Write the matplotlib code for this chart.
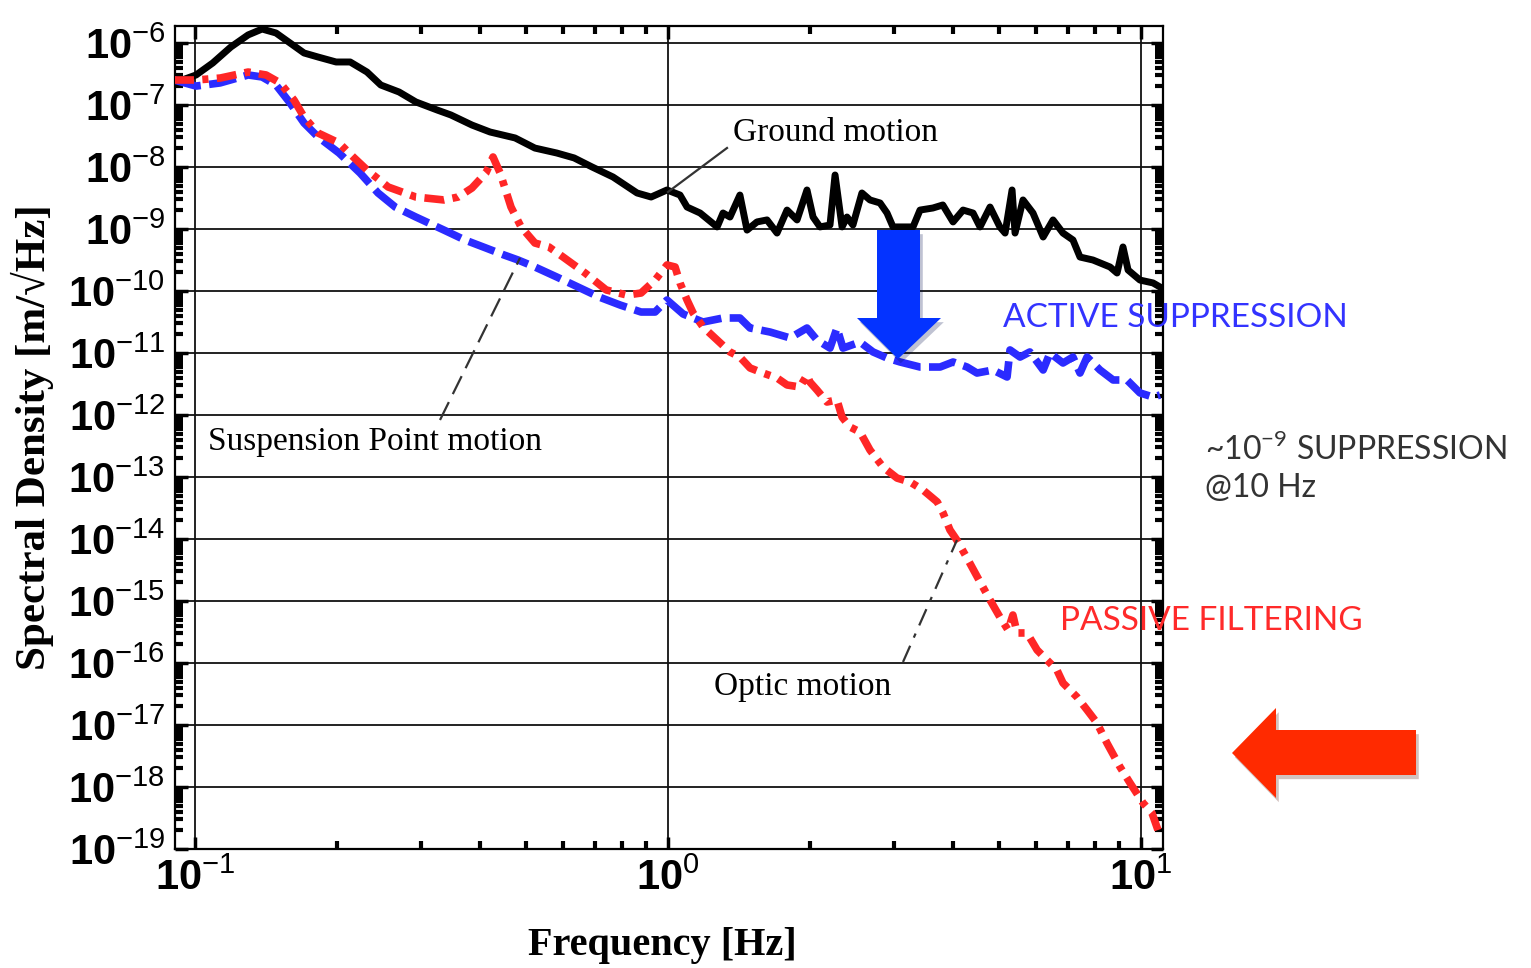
import matplotlib
matplotlib.use('Agg')
import matplotlib.pyplot as plt
import matplotlib.patheffects as pe
from matplotlib.patches import Polygon
from matplotlib.lines import Line2D
from matplotlib.ticker import LogLocator, NullFormatter
import numpy as np

plt.rcParams['mathtext.fontset'] = 'custom'
plt.rcParams['mathtext.bf'] = 'Liberation Sans:bold'
plt.rcParams['mathtext.sf'] = 'Liberation Sans'
plt.rcParams['mathtext.rm'] = 'Lato'

# ground motion (black, solid)
ground_f = [0.0903, 0.1005, 0.109, 0.119, 0.1295, 0.1386, 0.1483, 0.1588, 0.170, 0.182,
            0.1987, 0.2128, 0.231, 0.247, 0.270, 0.293, 0.325, 0.3475, 0.385, 0.4204,
            0.475, 0.523, 0.582, 0.633, 0.691, 0.765, 0.860, 0.921, 0.995, 1.06,
            1.097, 1.169, 1.27, 1.307, 1.352, 1.419, 1.469, 1.542, 1.619, 1.70,
            1.785, 1.874, 1.967, 2.026, 2.096, 2.20, 2.255, 2.333, 2.39, 2.46,
            2.57, 2.673, 2.807, 2.904, 2.99, 3.296, 3.41, 3.63, 3.81, 4.005,
            4.205, 4.414, 4.567, 4.795, 5.03, 5.16, 5.338, 5.416, 5.63, 5.91,
            6.21, 6.516, 6.84, 7.18, 7.43, 7.915, 8.60, 8.90, 9.16, 9.39,
            9.95, 10.6, 10.97]
ground_asd = [2.27e-7, 3.05e-7, 4.76e-7, 8.6e-7, 1.35e-6, 1.68e-6, 1.45e-6, 1.0e-6, 6.9e-7, 5.94e-7,
              4.94e-7, 4.94e-7, 3.4e-7, 2.1e-7, 1.62e-7, 1.12e-7, 8.3e-8, 6.9e-8, 4.75e-8, 3.67e-8,
              2.94e-8, 2.02e-8, 1.68e-8, 1.40e-8, 1.0e-8, 6.9e-9, 3.81e-9, 3.28e-9, 4.26e-9, 3.53e-9,
              2.26e-9, 1.81e-9, 1.08e-9, 1.81e-9, 1.56e-9, 3.53e-9, 9.6e-10, 1.30e-9, 1.40e-9, 8.6e-10,
              2.02e-9, 1.40e-9, 4.26e-9, 1.56e-9, 1.08e-9, 1.16e-9, 7.43e-9, 1.08e-9, 1.56e-9, 1.16e-9,
              3.81e-9, 2.94e-9, 2.63e-9, 1.81e-9, 1.08e-9, 1.08e-9, 2.02e-9, 2.18e-9, 2.44e-9, 1.30e-9,
              2.02e-9, 1.81e-9, 1.08e-9, 2.26e-9, 1.08e-9, 8.6e-10, 4.26e-9, 8.6e-10, 2.94e-9, 1.81e-9,
              7.43e-10, 1.40e-9, 8.6e-10, 6.65e-10, 3.53e-10, 3.16e-10, 2.44e-10, 1.95e-10, 5.13e-10, 2.18e-10,
              1.50e-10, 1.35e-10, 1.16e-10]

# suspension point motion (blue, dashed)
susp_f = [0.0903, 0.1005, 0.113, 0.1295, 0.1386, 0.1483, 0.1588, 0.170, 0.182, 0.2016,
          0.2233, 0.2437, 0.265, 0.293, 0.336, 0.372, 0.412, 0.450, 0.482, 0.523,
          0.582, 0.645, 0.715, 0.792, 0.877, 0.939, 0.995, 1.076, 1.186, 1.307,
          1.419, 1.491, 1.643, 1.811, 1.967, 2.065, 2.20, 2.276, 2.344, 2.546,
          2.713, 2.904, 3.094, 3.41, 3.76, 4.005, 4.287, 4.50, 4.864, 5.21,
          5.285, 5.55, 5.82, 6.21, 6.42, 6.84, 7.18, 7.43, 7.69, 8.19,
          8.73, 9.34, 9.95, 10.6, 10.97]
susp_asd = [2.53e-7, 2.02e-7, 2.27e-7, 3.05e-7, 2.83e-7, 2.1e-7, 1.08e-7, 5.13e-8, 3.05e-8, 1.68e-8,
            8.0e-9, 3.81e-9, 2.26e-9, 1.56e-9, 9.6e-10, 6.65e-10, 4.94e-10, 3.81e-10, 3.16e-10, 2.44e-10,
            1.68e-10, 1.16e-10, 8.0e-11, 5.94e-11, 4.58e-11, 4.58e-11, 7.16e-11, 4.26e-11, 3.16e-11, 3.67e-11,
            3.67e-11, 2.53e-11, 2.18e-11, 1.75e-11, 2.53e-11, 1.62e-11, 1.2e-11, 2.53e-11, 1.2e-11, 1.5e-11,
            1.04e-11, 8.3e-12, 7.16e-12, 5.94e-12, 5.94e-12, 7.16e-12, 5.94e-12, 4.75e-12, 5.32e-12, 4.1e-12,
            1.12e-11, 8.6e-12, 1.04e-11, 5.32e-12, 1.0e-11, 6.9e-12, 8.6e-12, 4.75e-12, 8.6e-12, 5.32e-12,
            3.67e-12, 3.67e-12, 2.27e-12, 1.95e-12, 2.1e-12]

# optic motion (red, dash-dot)
optic_f = [0.0903, 0.1005, 0.113, 0.1295, 0.1413, 0.1513, 0.1619, 0.170, 0.182, 0.2016,
           0.216, 0.231, 0.256, 0.293, 0.336, 0.360, 0.385, 0.412, 0.4266, 0.4416,
           0.4656, 0.489, 0.523, 0.560, 0.600, 0.668, 0.740, 0.819, 0.877, 0.939,
           0.995, 1.035, 1.06, 1.097, 1.13, 1.186, 1.27, 1.352, 1.419, 1.491,
           1.588, 1.70, 1.785, 1.90, 1.967, 1.995, 2.065, 2.168, 2.276, 2.333,
           2.425, 2.546, 2.673, 2.848, 3.05, 3.25, 3.46, 3.71, 3.815, 3.945,
           4.08, 4.31, 4.52, 4.795, 5.03, 5.235, 5.36, 5.47, 5.74, 6.03,
           6.42, 6.64, 6.84, 7.32, 7.69, 8.07, 8.47, 9.03, 9.48, 10.1,
           10.55, 10.86]
optic_asd = [2.53e-7, 2.53e-7, 2.72e-7, 3.4e-7, 3.05e-7, 2.27e-7, 1.2e-7, 6.4e-8, 3.53e-8, 2.44e-8,
             1.45e-8, 8.95e-9, 4.76e-9, 3.28e-9, 2.94e-9, 3.28e-9, 4.58e-9, 8.0e-9, 1.45e-8, 8.0e-9,
             2.26e-9, 1.08e-9, 5.94e-10, 5.13e-10, 3.53e-10, 1.95e-10, 1.04e-10, 8.6e-11, 9.28e-11, 1.5e-10,
             2.63e-10, 2.44e-10, 1.35e-10, 7.16e-11, 4.42e-11, 2.63e-11, 1.62e-11, 1.04e-11, 8.6e-12, 5.73e-12,
             4.75e-12, 3.95e-12, 3.05e-12, 2.83e-12, 4.42e-12, 3.4e-12, 2.53e-12, 1.62e-12, 1.75e-12, 9.28e-13,
             6.4e-13, 5.32e-13, 2.72e-13, 1.45e-13, 9.6e-14, 8.3e-14, 6.17e-14, 3.95e-14, 2.63e-14, 1.4e-14,
             9.6e-15, 4.58e-15, 2.35e-15, 1.04e-15, 5.52e-16, 3.4e-16, 5.94e-16, 3.05e-16, 3.05e-16, 1.62e-16,
             1.0e-16, 7.71e-17, 4.76e-17, 2.83e-17, 1.75e-17, 1.08e-17, 5.13e-18, 2.1e-18, 1.16e-18, 5.52e-19,
             3.8e-19, 2.02e-19]

x_decades = [-1, 0, 1]
y_decades = list(range(-19, -5))

W, H = 1531, 968
fig = plt.figure(figsize=(W / 100, H / 100), dpi=100)

def fpx(x, y):
    # pixel position -> figure fraction
    return x / W, 1 - y / H

ax = fig.add_axes([175 / W, 1 - 849 / H, (1163 - 175) / W, (849 - 26) / H])
ax.set_xscale('log')
ax.set_yscale('log')

ax.plot(ground_f, ground_asd, color='black', lw=5, solid_joinstyle='round', zorder=3)
ax.plot(susp_f, susp_asd, color='#2b2bff', lw=5.5, dashes=(3.6, 1.1), zorder=4)
ax.plot(optic_f, optic_asd, color='#ff2626', lw=5.5, dashes=(2.6, 1.1, 0.8, 1.1), zorder=5)

ax.set_xlim(0.0907, 11.13)
ax.set_ylim(1e-19, 1.88e-6)

ax.set_xticks([10.0 ** e for e in x_decades])
ax.set_xticklabels([r'$\mathbf{10}^{\mathsf{%d}}$' % e for e in x_decades], fontsize=30)
ax.set_yticks([10.0 ** e for e in y_decades])
ax.set_yticklabels([r'$\mathbf{10}^{\mathsf{%d}}$' % e for e in y_decades], fontsize=30)
ax.xaxis.set_minor_locator(LogLocator(base=10, subs=np.arange(2, 10), numticks=100))
ax.yaxis.set_minor_locator(LogLocator(base=10, subs=np.arange(2, 10), numticks=100))
ax.xaxis.set_minor_formatter(NullFormatter())
ax.yaxis.set_minor_formatter(NullFormatter())
ax.tick_params(which='both', direction='in', top=True, right=True)
ax.tick_params(which='major', length=9, width=2.5)
ax.tick_params(which='minor', length=6, width=3)
ax.tick_params(axis='y', which='major', pad=7)
ax.tick_params(axis='x', which='major', pad=6)
ax.grid(True, which='major', color='#111111', lw=1.3)
for s in ax.spines.values():
    s.set_linewidth(1.6)

serif = ['Liberation Serif', 'DejaVu Serif']
sans = ['Lato', 'DejaVu Sans']

x, y = fpx(662, 945)
fig.text(x, y, 'Frequency [Hz]', family=serif, weight='bold', fontsize=29, ha='center', va='center')
x, y = fpx(32, 437)
fig.text(x, y, 'Spectral Density [m/\u221aHz]', family=serif, weight='bold', fontsize=31,
         rotation=90, ha='center', va='center')

# curve labels with leader lines
x, y = fpx(733, 133)
fig.text(x, y, 'Ground motion', family=serif, fontsize=24, ha='left', va='center')
x, y = fpx(208, 442)
fig.text(x, y, 'Suspension Point motion', family=serif, fontsize=24, ha='left', va='center')
x, y = fpx(714, 687)
fig.text(x, y, 'Optic motion', family=serif, fontsize=24, ha='left', va='center')

leaders = [((668, 192), (727, 148), '-'), ((440, 420), (520, 258), (0, (9, 4))),
           ((903, 662), (957, 540), (0, (8, 4, 2, 4)))]
for p0, p1, ls in leaders:
    a, b = fpx(*p0)
    c, d = fpx(*p1)
    fig.add_artist(Line2D([a, c], [b, d], transform=fig.transFigure, color='#333333', lw=1.6, ls=ls, zorder=6))

# side annotations
x, y = fpx(1003, 318)
fig.text(x, y, 'ACTIVE SUPPRESSION', family=sans, fontsize=24, color='#3333ff',
         ha='left', va='center', zorder=7)
x, y = fpx(1205, 449)
fig.text(x, y, r'~10$^{\mathrm{-9}}$ SUPPRESSION', family=sans, fontsize=23,
         color='#333333', ha='left', va='center')
x, y = fpx(1205, 488)
fig.text(x, y, '@10 Hz', family=sans, fontsize=23, color='#333333', ha='left', va='center')
x, y = fpx(1060, 621)
fig.text(x, y, 'PASSIVE FILTERING', family=sans, fontsize=24, color='#ff2a2a',
         ha='left', va='center', zorder=7)

shadow = [pe.SimplePatchShadow(offset=(2, -3), alpha=0.25), pe.Normal()]

blue_arrow = [(877, 230), (920, 230), (920, 318), (941, 318), (898, 359), (857, 318), (877, 318)]
red_arrow = [(1416, 730), (1416, 775), (1276, 775), (1276, 798), (1232, 753), (1276, 708), (1276, 730)]
for pts, col in [(blue_arrow, '#0433ff'), (red_arrow, '#ff2a00')]:
    poly = Polygon([fpx(*p) for p in pts], closed=True, transform=fig.transFigure,
                   facecolor=col, edgecolor='none', zorder=8)
    poly.set_path_effects(shadow)
    fig.add_artist(poly)

fig.savefig('out.png', dpi=100)
